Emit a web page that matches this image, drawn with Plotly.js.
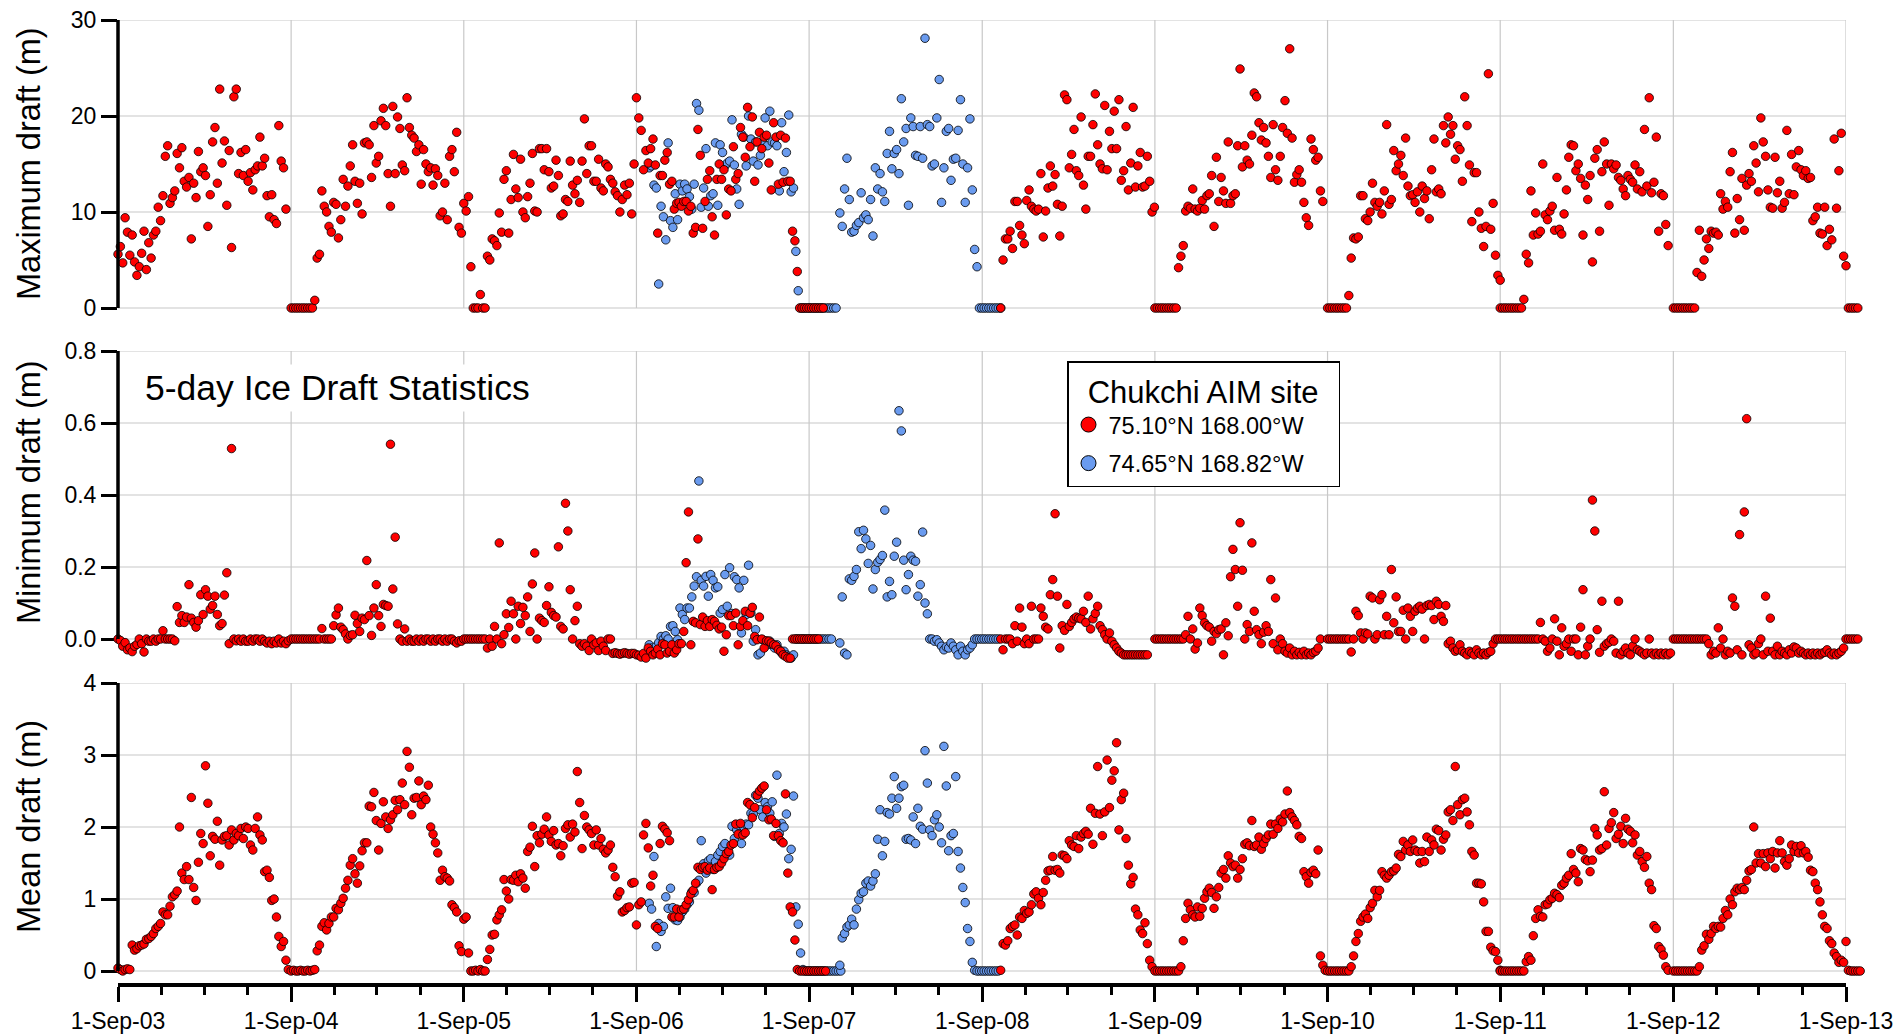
<!DOCTYPE html>
<html>
<head>
<meta charset="utf-8">
<script src="https://cdn.plot.ly/plotly-3.0.1.min.js"></script>
<style>
html,body{margin:0;padding:0;background:#fff;}
#chart{width:1897px;height:1036px;}
</style>
</head>
<body>
<div id="chart"></div>
<script>
// ---------- tick labels / axes ----------
const yearTicks = ['2003-09-01','2004-09-01','2005-09-01','2006-09-01','2007-09-01','2008-09-01','2009-09-01','2010-09-01','2011-09-01','2012-09-01','2013-09-01'];
const maxTicks = [0, 10, 20, 30];
const minTicks = [0, 0.2, 0.4, 0.6, 0.8];
const meanTicks = [0, 1, 2, 3, 4];
const seriesNames = ['75.10°N 168.00°W', '74.65°N 168.82°W'];
const legendTitle = 'Chukchi AIM site';
const panelTitle = '5-day Ice Draft Statistics';

// start date of each 5-day sequence
const redStarts = ['2003-09-01','2004-09-01','2005-09-01','2006-09-01','2008-10-10','2009-09-01','2010-09-01','2011-09-01','2012-09-01'];
const blueStarts = ['2006-09-28','2007-11-05'];

// ---------- Maximum draft (m) ----------
const maxRed2003 = [5.6,6.4,4.7,9.4,7.9,5.5,7.6,4.8,3.4,4.3,5.7,8.0,4.0,6.8,5.2,7.6,8.0,10.5,9.1,11.7,15.8,16.9,10.9,11.5,12.2,16.1,14.6,16.7,13.2,12.6,13.6,7.2,13.0,11.5,16.3,14.2,14.6,13.8,8.5,11.8,17.3,18.8,13.0,22.8,15.1,17.4,10.7,16.4,6.3,22.0,22.8,14.0,16.2,13.8,16.5,13.2,14.1,12.3,14.4,14.8,17.8,14.8,15.6,11.7,9.5,11.8,9.2,8.8,19.0,15.3,14.6,10.3];
const maxRed2004 = [0,0,0,0,0,0,0,0,0,0,0.8,5.2,5.6,12.2,10.6,10.0,8.5,7.9,11.0,10.8,7.3,9.2,13.4,10.6,12.7,14.8,17.0,13.2,10.9,13.0,9.8,17.2,17.3,17.0,13.6,19.0,15.1,15.8,19.5,20.8,19.0,14.0,10.6,21.0,14.0,19.9,18.7,14.9,14.3,21.9,18.8,18.0,17.7,16.3,17.0,12.9,16.5,15.0,14.2,14.6,12.8,14.5,13.8,9.6,10.0,13.0,9.2,15.8,16.5,14.2,18.3,8.4,7.8];
const maxRed2005 = [10.9,10.1,11.6,4.3,0,0,0,1.4,0,0,5.4,5.0,7.2,7.0,6.5,9.9,7.9,13.4,14.3,7.8,11.3,16.0,12.4,11.5,15.5,10.0,9.4,11.6,13.0,16.1,10.1,10.0,16.6,16.6,14.4,16.6,14.2,12.5,12.7,15.4,13.8,9.6,9.8,11.3,11.1,15.3,12.8,11.9,13.3,11.0,15.3,19.7,14.0,16.9,16.9,13.2,13.2,15.5,12.5,12.2,15.0,14.7,13.4,13.0,12.1,11.7,10.0,11.3,12.8,11.8,13.0,9.8,15.0];
const maxRed2006 = [21.9,19.8,18.5,14.4,16.4,15.1,16.6,17.6,14.9,7.8,13.8,13.8,15.4,16.2,12.9,13.2,10.3,10.9,11.0,10.6,11.1,11.1,10.1,10.6,7.8,8.4,18.6,15.9,8.3,11.1,13.4,14.3,9.5,7.6,13.4,15.0,13.4,14.4,9.7,12.4,12.2,16.8,13.4,14.0,18.8,17.8,15.7,20.9,16.8,19.9,13.2,17.3,18.3,16.6,17.8,18.0,15.1,12.3,19.3,17.8,12.9,18.0,13.1,17.7,13.2,13.2,8.0,7.0,3.8,0,0,0,0,0,0,0,0,0,0,0];
const maxRed2008 = [0,5.0,7.2,7.2,8.0,6.2,11.1,11.1,8.6,7.6,6.7,11.2,12.3,10.6,10.3,10.1,10.3,14.0,7.4,10.1,12.5,14.8,12.7,13.9,10.8,7.5,10.6,22.2,21.7,14.6,16.0,18.6,14.3,13.8,19.9,12.8,10.3,15.8,15.8,19.1,22.3,17.0,15.0,14.5,21.1,14.4,18.4,16.6,20.5,16.6,21.7,13.3,14.3,18.9,12.3,15.1,20.9,12.6,14.8,16.2,12.6,12.7,15.8,13.2,10.0,10.5];
const maxRed2009 = [0,0,0,0,0,0,0,0,0,0,4.2,5.4,6.5,10.1,10.6,10.4,12.4,10.3,10.1,10.4,11.2,10.3,11.7,11.9,13.8,8.5,15.7,11.1,13.6,12.2,10.9,17.3,10.9,11.7,11.9,16.9,24.9,14.7,16.9,15.4,15.0,18.0,22.4,22.0,19.3,17.5,18.8,17.2,15.8,13.6,19.1,14.4,13.3,15.8,18.8,21.6,18.2,27.0,17.7,13.1,13.9,14.4,13.1,11.0,9.4,8.6,17.6,16.5,15.4,15.7,12.2,11.1];
const maxRed2010 = [0,0,0,0,0,0,0,0,0,1.3,5.2,7.3,7.2,7.4,11.7,11.7,9.3,9.1,10.0,13.0,11.0,10.6,11.0,9.8,12.2,19.1,10.8,11.3,16.4,14.3,15.0,15.9,13.8,17.7,12.7,11.7,11.8,11.0,12.1,10.0,12.7,11.4,12.2,9.3,14.4,17.6,12.1,12.4,11.9,19.0,17.2,19.9,18.1,19.0,15.5,16.9,16.5,13.2,22.0,19.0,14.9,9.0,14.1,14.1,10.0,8.3,6.4,8.5,24.4,8.2,10.9,5.5,3.4,2.9];
const maxRed2011 = [0,0,0,0,0,0,0,0,0,0,0.9,5.6,4.7,12.2,7.6,9.9,7.7,8.0,15.0,9.7,9.2,10.1,10.6,8.1,13.6,8.2,7.7,9.8,12.3,15.7,17.0,16.9,14.3,15.0,13.5,7.6,12.8,11.3,13.8,4.8,15.6,16.5,8.0,14.2,17.3,15.0,10.7,15.0,14.5,14.9,13.6,13.3,12.4,11.7,13.8,13.4,13.1,14.9,12.4,14.2,12.1,18.6,12.7,21.9,12.0,13.1,17.8,8.0,11.9,11.7,8.7,6.5];
const maxRed2012 = [0,0,0,0,0,0,0,0,0,0,3.7,8.1,3.3,5.0,7.2,6.2,8.0,7.8,7.9,7.6,11.9,10.3,11.1,10.5,14.2,16.2,7.8,11.4,9.2,13.5,8.1,12.8,14.0,13.2,16.9,15.1,12.1,19.8,17.3,15.8,12.3,10.5,10.4,15.7,12.0,13.2,10.4,11.0,18.5,11.9,16.0,11.8,14.7,16.4,14.4,13.8,14.3,13.5,13.6,9.1,9.5,10.5,7.8,7.7,10.5,6.5,8.2,7.1,17.6,10.4,14.3,18.2,5.4,4.4,0,0,0,0,0];
const maxBlue2006 = [14.6,14.8,12.8,12.5,2.5,10.6,9.5,7.1,17.2,9.1,8.4,11.9,9.2,12.9,12.2,12.9,12.4,11.6,10.3,12.9,21.3,20.6,10.5,12.5,16.6,10.6,11.7,11.9,17.2,10.7,17.0,16.2,14.8,15.1,15.3,19.6,14.9,12.4,10.8,18.1,17.8,14.8,20.0,17.6,15.3,17.3,14.9,15.9,17.1,19.8,16.9,20.5,17.3,17.2,16.9,12.2,19.3,14.2,16.2,20.1,12.1,12.5,5.9,1.8,0,0,0,0,0,0,0,0,0,0,0,0,0,0,0,0];
const maxBlue2007 = [9.9,8.5,12.4,15.6,11.3,7.9,8.0,8.6,8.9,12.0,9.4,9.7,9.2,11.3,7.5,14.6,12.4,14.0,12.1,11.1,16.1,18.4,14.5,16.1,16.5,14.0,21.8,17.3,18.7,10.7,19.8,18.9,15.9,15.8,18.9,15.6,28.1,19.1,18.9,14.8,15.0,19.8,23.8,11.0,14.6,18.4,18.7,13.3,15.5,15.6,18.5,21.7,15.0,11.0,14.6,19.7,12.3,6.1,4.3,0,0,0,0,0,0,0,0,0,0];

// ---------- Minimum draft (m) ----------
const minRed2003 = [0,-0.004,-0.02,-0.01,-0.03,-0.025,-0.035,-0.02,-0.015,0,-0.013,-0.036,0,-0.006,-0.006,0,-0.006,0,0,0.023,0,0,0,0,-0.005,0.09,0.046,0.065,0.046,0.061,0.151,0.058,0.046,0.033,0.051,0.123,0.068,0.137,0.119,0.083,0.093,0.119,0.068,0.037,0.043,0.122,0.184,-0.013,0.529,0,-0.005,0,-0.006,0,-0.006,-0.006,0,-0.006,0,0,-0.006,0,-0.006,-0.011,-0.006,-0.013,-0.006,-0.011,0,-0.011,-0.006,-0.013,-0.005];
const minRed2004 = [0,0,0,0,0,0,0,0,0,0,0,0,0,0.029,0,0,0,0,0.037,0.067,0.086,0.033,0.026,0.014,0,0.01,0.012,0.066,0.043,0.021,0.058,0.054,0.218,0.065,0.01,0.086,0.151,0.065,0.035,0.096,0.093,0.091,0.541,0.139,0.283,0.042,0,-0.006,0.028,-0.006,0,-0.006,-0.006,0,-0.006,0,-0.006,0,0,-0.006,0,-0.006,0,0,-0.006,0,-0.006,0,0,-0.006,-0.011,-0.005,-0.006];
const minRed2005 = [0,0,0,0,0,0,0,0,0,0,-0.025,0,-0.02,0.035,0,0.267,-0.013,0.012,0.07,0.032,0.105,0.07,0,0.091,0.043,0.088,0.065,0.117,0.021,0.153,0.239,0,0.058,0.051,0.046,0.093,0.145,0.074,0.065,0.061,0.256,0.035,0.028,0.377,0.3,0.137,0,0.051,0.091,-0.013,-0.02,-0.013,-0.02,-0.032,0,-0.016,-0.011,-0.032,-0.006,-0.02,-0.032,0,0,-0.04,-0.038,-0.04,-0.042,-0.04,-0.038,-0.04,-0.042,-0.04,-0.04];
const minRed2006 = [-0.044,-0.045,-0.05,-0.04,-0.053,-0.025,-0.034,-0.044,-0.039,-0.028,-0.044,-0.013,-0.016,-0.039,-0.034,-0.016,-0.039,-0.03,-0.013,-0.013,0.021,0.212,0.353,-0.016,0.049,0.045,0.278,0.04,0.061,0.035,0.051,0.035,0.054,0.049,0.038,0.028,0.033,-0.034,0.012,0.065,0.065,0.037,0.072,-0.016,0.035,0.051,0.077,0.037,0.072,0.088,0.007,-0.002,0.061,0,-0.025,-0.005,-0.006,-0.011,-0.016,-0.019,-0.03,-0.034,-0.044,-0.048,-0.053,-0.053,0,0,0,0,0,0,0,0,0,0,0,0];
const minRed2008 = [0,-0.03,0,0,0,-0.013,0.037,-0.006,0.086,0.033,-0.013,0,-0.013,0.091,0,0,0,0.086,0.063,0.033,0.028,0.123,0.165,0.348,0.119,-0.025,0.037,0.024,0.096,0.035,0.046,0.056,0.061,0.058,0.056,0.077,0.046,0.119,0.028,0.056,0.071,0.091,0.037,0.026,0.012,0,0.017,-0.006,-0.016,-0.025,-0.034,-0.039,-0.044,-0.044,-0.044,-0.044,-0.044,-0.044,-0.044,-0.044,-0.044,-0.044,-0.044];
const minRed2009 = [0,0,0,0,0,0,0,0,0,0,0,0,0,0.012,0.063,0,0.028,-0.028,-0.011,0.086,0.065,0.045,0.037,0.033,-0.006,0.021,0.015,0.026,0.028,-0.044,0.045,0.009,0.173,0.249,0.193,0.091,0.323,0.191,0,0.04,0.021,0.267,0.077,0.026,0.012,-0.013,0.019,0.037,0.021,0.165,-0.013,0.114,-0.03,0,-0.013,-0.034,-0.039,-0.025,-0.044,-0.034,-0.044,-0.037,-0.044,-0.034,-0.044,-0.039,-0.044,-0.037,-0.034,-0.025,0];
const minRed2010 = [0,0,0,0,0,0,0,0,0,0,-0.036,0,0.077,0.065,0.017,0,0.017,0.014,0.119,0.114,0,0.012,0.109,0.123,0.012,0.063,0.012,0.193,0.045,0.117,0.021,0.021,0.08,0,0.086,0.063,0.021,0.077,0.086,0.091,0.083,0,0.093,0.096,0.093,0.054,0.105,0.096,0.063,0.049,0.093,-0.013,-0.006,-0.025,-0.034,-0.03,-0.016,-0.034,-0.039,-0.044,-0.034,-0.039,-0.044,-0.03,-0.039,-0.044,-0.039,-0.044,-0.037,-0.034,-0.013,0,0];
const minRed2011 = [0,0,0,0,0,0,0,0,0,0,0,0,0,0,0,0,0,0.046,0,-0.006,-0.034,-0.025,0,0.056,-0.006,-0.044,0.031,-0.02,-0.013,0,-0.034,0,0,-0.044,0.033,0.137,-0.044,-0.02,0,0.386,0.3,0.026,-0.037,0.105,-0.02,-0.013,-0.009,0,-0.006,-0.039,0.105,-0.044,-0.034,-0.025,-0.039,-0.044,-0.02,0,-0.03,-0.034,-0.039,-0.044,-0.039,0,-0.039,-0.044,-0.039,-0.044,-0.039,-0.044,-0.039,-0.044,-0.039];
const minRed2012 = [0,0,0,0,0,0,0,0,0,0,0,0,0,0,0,-0.013,-0.044,-0.034,-0.039,0.031,-0.025,0,-0.044,-0.034,-0.039,0.114,0.091,-0.03,0.29,-0.044,0.353,0.612,-0.016,-0.025,-0.044,-0.039,-0.013,0,-0.044,0.119,-0.034,0.058,-0.034,-0.044,-0.02,-0.044,-0.034,-0.039,-0.044,-0.03,-0.039,-0.022,-0.025,-0.039,-0.034,-0.039,-0.044,-0.039,-0.044,-0.039,-0.044,-0.039,-0.044,-0.039,-0.037,-0.03,-0.039,-0.044,-0.039,-0.044,-0.039,-0.034,-0.025,0,0,0,0,0,0];
const minBlue2006 = [-0.016,-0.025,-0.03,-0.02,-0.01,0.007,0,0.009,0,0.035,0.037,0.021,-0.002,0.086,0.068,0.054,0.086,0.086,0.117,0.147,0.173,0.439,0.163,0.147,0.174,0.119,0.179,0.163,0.142,0.145,0.072,0.082,0.179,0.091,0.198,0.071,0.173,0.165,0.142,0.017,0.163,0.068,0.205,0.072,-0.006,0.026,-0.044,-0.039,-0.002,-0.006,-0.016,-0.006,-0.016,-0.025,-0.016,-0.03,-0.039,-0.034,-0.044,-0.048,-0.053,-0.044,0,0,0,0,0,0,0,0,0,0,0,0,0,0,0,0];
const minBlue2007 = [-0.011,0.117,-0.039,-0.044,0.167,0.163,0.174,0.193,0.298,0.251,0.302,0.278,0.21,0.26,0.139,0.193,0.213,0.221,0.232,0.358,0.117,0.16,0.123,0.23,0.269,0.634,0.578,0.219,0.137,0.179,0.23,0.219,0.216,0.119,0.151,0.297,0.1,0.07,0,0,-0.006,-0.002,-0.011,-0.02,-0.03,-0.022,-0.025,-0.011,-0.02,-0.03,-0.044,-0.02,-0.034,-0.044,-0.03,-0.025,-0.016,0,0,0,0,0,0,0,0,0,0,0];

// ---------- Mean draft (m) ----------
const meanRed2003 = [0.04,0.02,0,0.02,0.03,0.02,0.36,0.29,0.31,0.35,0.36,0.375,0.44,0.45,0.48,0.52,0.59,0.62,0.66,0.82,0.78,0.78,0.9,1.03,1.06,1.11,2.0,1.36,1.27,1.45,1.27,2.41,1.16,0.98,1.51,1.91,1.77,2.85,2.33,1.6,1.87,1.83,2.08,1.47,1.82,1.87,1.88,1.75,1.96,1.82,1.91,1.88,1.98,1.84,2.0,1.98,1.75,1.68,1.98,2.14,1.89,1.82,1.38,1.4,1.3,0.98,1.0,0.75,0.48,0.34,0.41,0.15,0.02];
const meanRed2004 = [0,0.01,0,0,0.01,0,0,0.01,0,0.01,0.02,0.28,0.36,0.62,0.67,0.57,0.66,0.75,0.75,0.87,0.85,0.94,1.01,1.15,1.26,1.47,1.56,1.35,1.22,1.46,1.67,1.78,1.78,2.29,2.28,2.48,2.09,1.68,2.05,2.35,2.14,1.98,2.1,2.17,2.37,2.24,2.38,2.61,2.31,3.05,2.83,2.17,2.4,2.41,2.64,2.31,2.43,2.38,2.58,2.0,1.9,1.78,1.64,1.26,1.4,1.31,1.29,1.25,0.92,0.88,0.82,0.35,0.27];
const meanRed2005 = [0.72,0.75,0.25,0,0,0.01,0,0.02,0,0,0.16,0.3,0.5,0.51,0.71,0.78,0.85,1.27,1.11,1.0,1.27,1.26,1.33,1.24,1.35,1.29,1.15,1.66,1.72,2.01,1.45,1.88,1.78,1.9,1.97,2.14,1.89,1.8,1.95,1.75,1.77,1.6,1.74,1.98,2.03,1.86,2.04,1.93,2.77,2.34,1.7,2.16,2.0,1.96,1.91,1.75,1.96,1.75,1.84,1.69,1.64,1.68,1.75,1.44,1.31,1.04,1.1,0.82,0.84,0.88,0.89,1.22,1.23];
const meanRed2006 = [0.64,0.92,0.96,1.89,2.05,1.71,1.18,1.33,0.62,0.59,1.77,2.01,1.97,1.92,1.81,0.75,0.75,0.86,0.75,0.85,0.86,0.92,0.99,1.07,1.12,1.22,1.44,1.41,1.44,1.45,1.4,1.43,1.13,1.41,1.44,1.45,1.5,1.56,1.63,1.66,1.75,1.77,2.04,1.9,2.05,1.89,1.92,2.34,2.31,2.13,2.27,2.44,2.5,2.54,2.57,2.24,2.1,2.11,1.88,2.05,1.88,1.81,1.78,2.46,1.36,0.89,0.82,0.43,0.02,0,0,0,0,0,0,0,0,0,0,0,0];
const meanRed2008 = [0.01,0.38,0.36,0.42,0.59,0.62,0.64,0.5,0.75,0.73,0.84,0.8,0.82,0.92,1.07,1.1,1.01,0.92,1.09,1.26,1.39,1.4,1.59,1.4,1.41,1.36,1.61,1.6,1.56,1.81,1.75,1.73,1.88,1.7,1.86,1.91,1.94,1.9,2.26,1.76,2.19,2.84,2.18,1.88,2.21,2.93,2.27,2.65,2.78,3.17,1.96,2.38,2.47,1.84,1.47,1.21,1.3,0.86,0.78,0.57,0.52,0.67,0.38,0.15,0.06];
const meanRed2009 = [0,0,0,0,0,0,0,0,0,0,0,0.06,0.42,0.73,0.94,0.85,0.78,0.75,0.89,0.76,0.87,1.01,1.1,1.15,1.09,0.87,1.03,1.16,1.36,1.41,1.29,1.6,1.5,1.45,1.47,1.29,1.41,1.56,1.76,1.78,1.74,2.09,1.73,1.75,1.86,1.69,1.77,1.84,1.89,2.04,1.9,2.04,1.98,2.11,2.07,2.18,2.5,2.2,2.14,2.09,2.03,1.87,1.84,1.38,1.31,1.22,1.37,1.4,1.35,1.68,0.21,0.08,0.01];
const meanRed2010 = [0,0,0,0,0,0,0,0,0,0,0.06,0.21,0.41,0.52,0.69,0.75,0.79,0.73,0.88,0.94,1.12,1.03,1.12,1.38,1.33,1.29,1.33,1.38,1.39,1.43,1.62,1.59,1.8,1.68,1.75,1.66,1.82,1.68,1.66,1.5,1.66,1.52,1.86,1.66,1.82,1.75,1.97,1.95,1.68,1.83,1.89,2.21,2.24,2.09,2.84,2.31,2.17,2.38,2.4,2.21,2.03,1.66,1.61,1.22,1.22,1.21,0.96,0.55,0.55,0.33,0.28,0.27,0.15,0.01];
const meanRed2011 = [0,0,0,0,0,0,0,0,0,0,0,0.13,0.2,0.15,0.49,0.73,0.85,0.76,0.75,0.92,0.93,0.99,1.01,1.08,1.06,1.02,1.19,1.22,1.29,1.33,1.63,1.41,1.36,1.24,1.7,1.68,1.55,1.53,1.38,1.54,1.98,1.89,1.68,1.7,2.49,1.75,1.98,2.06,2.2,1.84,1.9,2.01,1.77,2.12,1.97,1.94,1.78,1.89,1.61,1.66,1.52,1.44,1.59,1.22,1.13,0.63,0.59,0.34,0.3,0.22,0.06,0.01];
const meanRed2012 = [0,0,0,0,0,0,0,0,0,0,0,0.06,0.29,0.35,0.51,0.44,0.52,0.62,0.59,0.62,0.61,0.73,0.84,0.78,1.0,0.92,1.1,1.15,1.13,1.16,1.13,1.26,1.39,1.41,2.0,1.5,1.63,1.5,1.63,1.45,1.64,1.56,1.66,1.43,1.64,1.81,1.64,1.52,1.47,1.56,1.75,1.66,1.73,1.64,1.74,1.64,1.66,1.58,1.4,1.38,1.22,1.13,0.96,0.78,0.62,0.59,0.42,0.38,0.25,0.2,0.12,0.15,0.12,0.41,0.01,0,0,0,0,0];
const meanBlue2006 = [0.94,0.86,1.59,0.34,0.66,0.55,0.62,1.03,0.87,1.15,0.88,0.71,0.7,0.75,0.82,0.86,0.92,0.96,1.1,1.09,1.22,1.26,1.81,1.49,1.36,1.53,1.56,1.41,1.52,1.61,1.66,1.73,1.77,1.64,1.61,2.01,1.84,1.96,1.91,1.77,2.0,2.04,2.03,2.19,2.18,2.44,2.4,2.24,2.14,2.34,2.28,2.19,2.35,1.87,2.72,1.91,2.05,2.0,2.18,1.56,1.69,2.43,0.89,0.65,0.25,0.02,0,0,0,0,0,0,0,0,0,0,0,0,0,0,0,0];
const meanBlue2007 = [0.08,0.46,0.52,0.61,0.64,0.72,0.64,0.86,0.99,1.08,1.1,1.22,1.25,1.18,1.25,1.35,1.83,2.24,1.6,1.8,2.2,2.18,2.4,2.7,2.26,2.4,2.56,2.58,1.83,1.84,1.82,2.14,1.77,2.26,2.01,1.97,3.06,2.61,1.96,1.88,2.1,2.17,2.0,1.78,3.12,2.57,1.67,1.88,1.91,2.7,1.66,1.43,1.16,0.95,0.59,0.41,0.12,0.01,0,0,0,0,0,0,0,0,0,0];

// ---------- helpers ----------
const DAY = 86400000;
function fiveDay(start, n) {
  const t0 = Date.parse(start + 'T00:00:00Z');
  const out = [];
  for (let i = 0; i < n; i++) out.push(new Date(t0 + i * 5 * DAY).toISOString().slice(0, 10));
  return out;
}
function build(segs, starts) {
  const x = [], y = [];
  segs.forEach((s, k) => { const d = fiveDay(starts[k], s.length); for (let i = 0; i < s.length; i++) { x.push(d[i]); y.push(s[i]); } });
  return { x, y };
}
function fmtDate(ms) {
  const d = new Date(ms), p = n => String(n).padStart(2, '0');
  return d.getUTCFullYear() + '-' + p(d.getUTCMonth() + 1) + '-' + p(d.getUTCDate()) + ' ' + p(d.getUTCHours()) + ':' + p(d.getUTCMinutes()) + ':' + p(d.getUTCSeconds());
}

const RED = '#FF0000', BLUE = '#6A9BEF';
const FONT = 'Liberation Sans, Arial, Helvetica, sans-serif';

// geometry (pixels)
const W = 1897, H = 1036, ML = 118, MR = 30, MT = 20, MB = 53;
const PW = W - ML - MR;           // full plot width (1749)
const AXW = 1728;                  // width of the visible 10-year axis
const PH = H - MT - MB;            // 963
const mainDomX = [0, AXW / PW];

const xStart = yearTicks[0], xEnd = yearTicks[yearTicks.length - 1];
const t0 = Date.parse(xStart + 'T00:00:00Z'), t1 = Date.parse(xEnd + 'T00:00:00Z');
const xEndExt = fmtDate(t0 + (t1 - t0) * PW / AXW);   // data axis extends past 1-Sep-13 at the same scale

function pts(d, color, xa, ya) {
  return { type: 'scatter', mode: 'markers', x: d.x, y: d.y, xaxis: xa, yaxis: ya, showlegend: false, cliponaxis: false, hoverinfo: 'skip',
    marker: { size: 8.5, color: color, line: { color: '#000', width: 0.8 } } };
}

const maxR = build([maxRed2003, maxRed2004, maxRed2005, maxRed2006, maxRed2008, maxRed2009, maxRed2010, maxRed2011, maxRed2012], redStarts);
const minR = build([minRed2003, minRed2004, minRed2005, minRed2006, minRed2008, minRed2009, minRed2010, minRed2011, minRed2012], redStarts);
const meanR = build([meanRed2003, meanRed2004, meanRed2005, meanRed2006, meanRed2008, meanRed2009, meanRed2010, meanRed2011, meanRed2012], redStarts);
const maxB = build([maxBlue2006, maxBlue2007], blueStarts);
const minB = build([minBlue2006, minBlue2007], blueStarts);
const meanB = build([meanBlue2006, meanBlue2007], blueStarts);

const traces = [
  pts(meanB, BLUE, 'x4', 'y'), pts(meanR, RED, 'x4', 'y'),
  pts(minB, BLUE, 'x4', 'y4'), pts(minR, RED, 'x4', 'y4'),
  pts(maxB, BLUE, 'x4', 'y3'), pts(maxR, RED, 'x4', 'y3'),
  { type: 'scatter', mode: 'markers', x: [null], y: [null], xaxis: 'x4', yaxis: 'y4', name: seriesNames[0], legendgroup: 'a', showlegend: true, marker: { size: 15, color: RED, line: { color: '#000', width: 1 } } },
  { type: 'scatter', mode: 'markers', x: [null], y: [null], xaxis: 'x4', yaxis: 'y4', name: seriesNames[1], legendgroup: 'b', showlegend: true, marker: { size: 15, color: BLUE, line: { color: '#000', width: 1 } } }
];

function xax(anchor, labels) {
  return {
    type: 'date', anchor: anchor, domain: mainDomX, range: [xStart, xEnd], tick0: xStart, dtick: 'M12', tickformat: '%-d-%b-%y',
    ticks: 'outside', ticklen: 15, tickwidth: 3, tickcolor: '#000', showticklabels: labels,
    showline: true, linewidth: 3.5, linecolor: '#000', showgrid: false, zeroline: false,
    tickfont: { family: FONT, size: 23, color: '#000' },
    minor: { dtick: 'M3', tick0: xStart, ticks: 'outside', ticklen: 8, tickwidth: 3, tickcolor: '#000', showgrid: false }
  };
}
function yax(domain, range, dtick, fmt) {
  return {
    domain: domain, range: range, tick0: 0, dtick: dtick, tickformat: fmt,
    ticks: 'outside', ticklen: 16, tickwidth: 3, tickcolor: '#000',
    showline: false, showgrid: false, zeroline: false,
    tickfont: { family: FONT, size: 23, color: '#000' }
  };
}

// panel domains (bottom of plot area = position of each x-axis line)
const dBot = [0, (983 - 683) / PH];
const dMid = [(983 - 651) / PH, (983 - 351) / PH];
const dTop = [(983 - 321) / PH, 1];
const midRange = [-0.0333, 0.8];
const midPxPerUnit = (dMid[1] - dMid[0]) * PH / (midRange[1] - midRange[0]);
const midExtLow = -0.065;
const dMidExt = [dMid[0] - (midRange[0] - midExtLow) * midPxPerUnit / PH, dMid[1]];

const panels = [
  { ya: 'y', ticks: meanTicks, top: 4 },
  { ya: 'y2', ticks: minTicks, top: 0.8 },
  { ya: 'y3', ticks: maxTicks, top: 30 }
];
const shapes = [];
panels.forEach(p => {
  p.ticks.forEach(v => shapes.push({ type: 'line', layer: 'below', xref: 'x', yref: p.ya, x0: xStart, x1: xEnd, y0: v, y1: v, line: { color: '#c8c8c8', width: 1.2 } }));
  yearTicks.slice(1).forEach(t => shapes.push({ type: 'line', layer: 'below', xref: 'x', yref: p.ya, x0: t, x1: t, y0: 0, y1: p.top, line: { color: '#c8c8c8', width: 1.2 } }));
  shapes.push({ type: 'line', layer: 'above', xref: 'paper', yref: p.ya, x0: 0, x1: 0, y0: 0, y1: p.top, line: { color: '#000', width: 3.5 } });
});

function vtitle(text, y) {
  return { text: text, xref: 'paper', yref: 'paper', x: (29 - ML) / PW, y: y, xanchor: 'center', yanchor: 'middle', textangle: -90, showarrow: false,
    font: { family: FONT, size: 32.5, color: '#000' } };
}

const layout = {
  width: W, height: H,
  margin: { l: ML, r: MR, t: MT, b: MB },
  paper_bgcolor: '#fff', plot_bgcolor: 'rgba(0,0,0,0)',
  font: { family: FONT, color: '#000' },
  xaxis: xax('y', true),
  xaxis2: Object.assign(xax('y2', false), { matches: 'x' }),
  xaxis3: Object.assign(xax('y3', false), { matches: 'x' }),
  xaxis4: { type: 'date', visible: false, domain: [0, 1], range: [xStart, xEndExt], anchor: 'y4' },
  yaxis: yax(dBot, [-0.1667, 4], 1, 'd'),
  yaxis2: yax(dMid, midRange, 0.2, '.1f'),
  yaxis3: yax(dTop, [-1.354, 30], 10, 'd'),
  yaxis4: { visible: false, domain: dMidExt, range: [midExtLow, 0.8], anchor: 'x4' },
  shapes: shapes,
  showlegend: true,
  legend: {
    x: (1067 - ML) / PW, y: (983 - 361) / PH, xanchor: 'left', yanchor: 'top', bgcolor: '#fff', bordercolor: '#000', borderwidth: 1.5,
    font: { family: FONT, size: 23.5, color: '#000' },
    title: { text: '&nbsp;&nbsp;' + legendTitle + '&nbsp;&nbsp;', font: { family: FONT, size: 31, color: '#000' } },
    traceorder: 'grouped', tracegroupgap: 5
  },
  annotations: [
    vtitle('Maximum draft (m)', (983 - 164) / PH),
    vtitle('Minimum draft (m)', (983 - 492) / PH),
    vtitle('Mean draft (m)', (983 - 827) / PH),
    { text: panelTitle, xref: 'paper', yref: 'paper', x: (141 - ML) / PW, y: (983 - 388) / PH, xanchor: 'left', yanchor: 'middle', showarrow: false,
      bgcolor: '#fff', borderpad: 3, font: { family: FONT, size: 35.5, color: '#000' } }
  ]
};

Plotly.newPlot('chart', traces, layout, { displayModeBar: false, staticPlot: true });
</script>
</body>
</html>
